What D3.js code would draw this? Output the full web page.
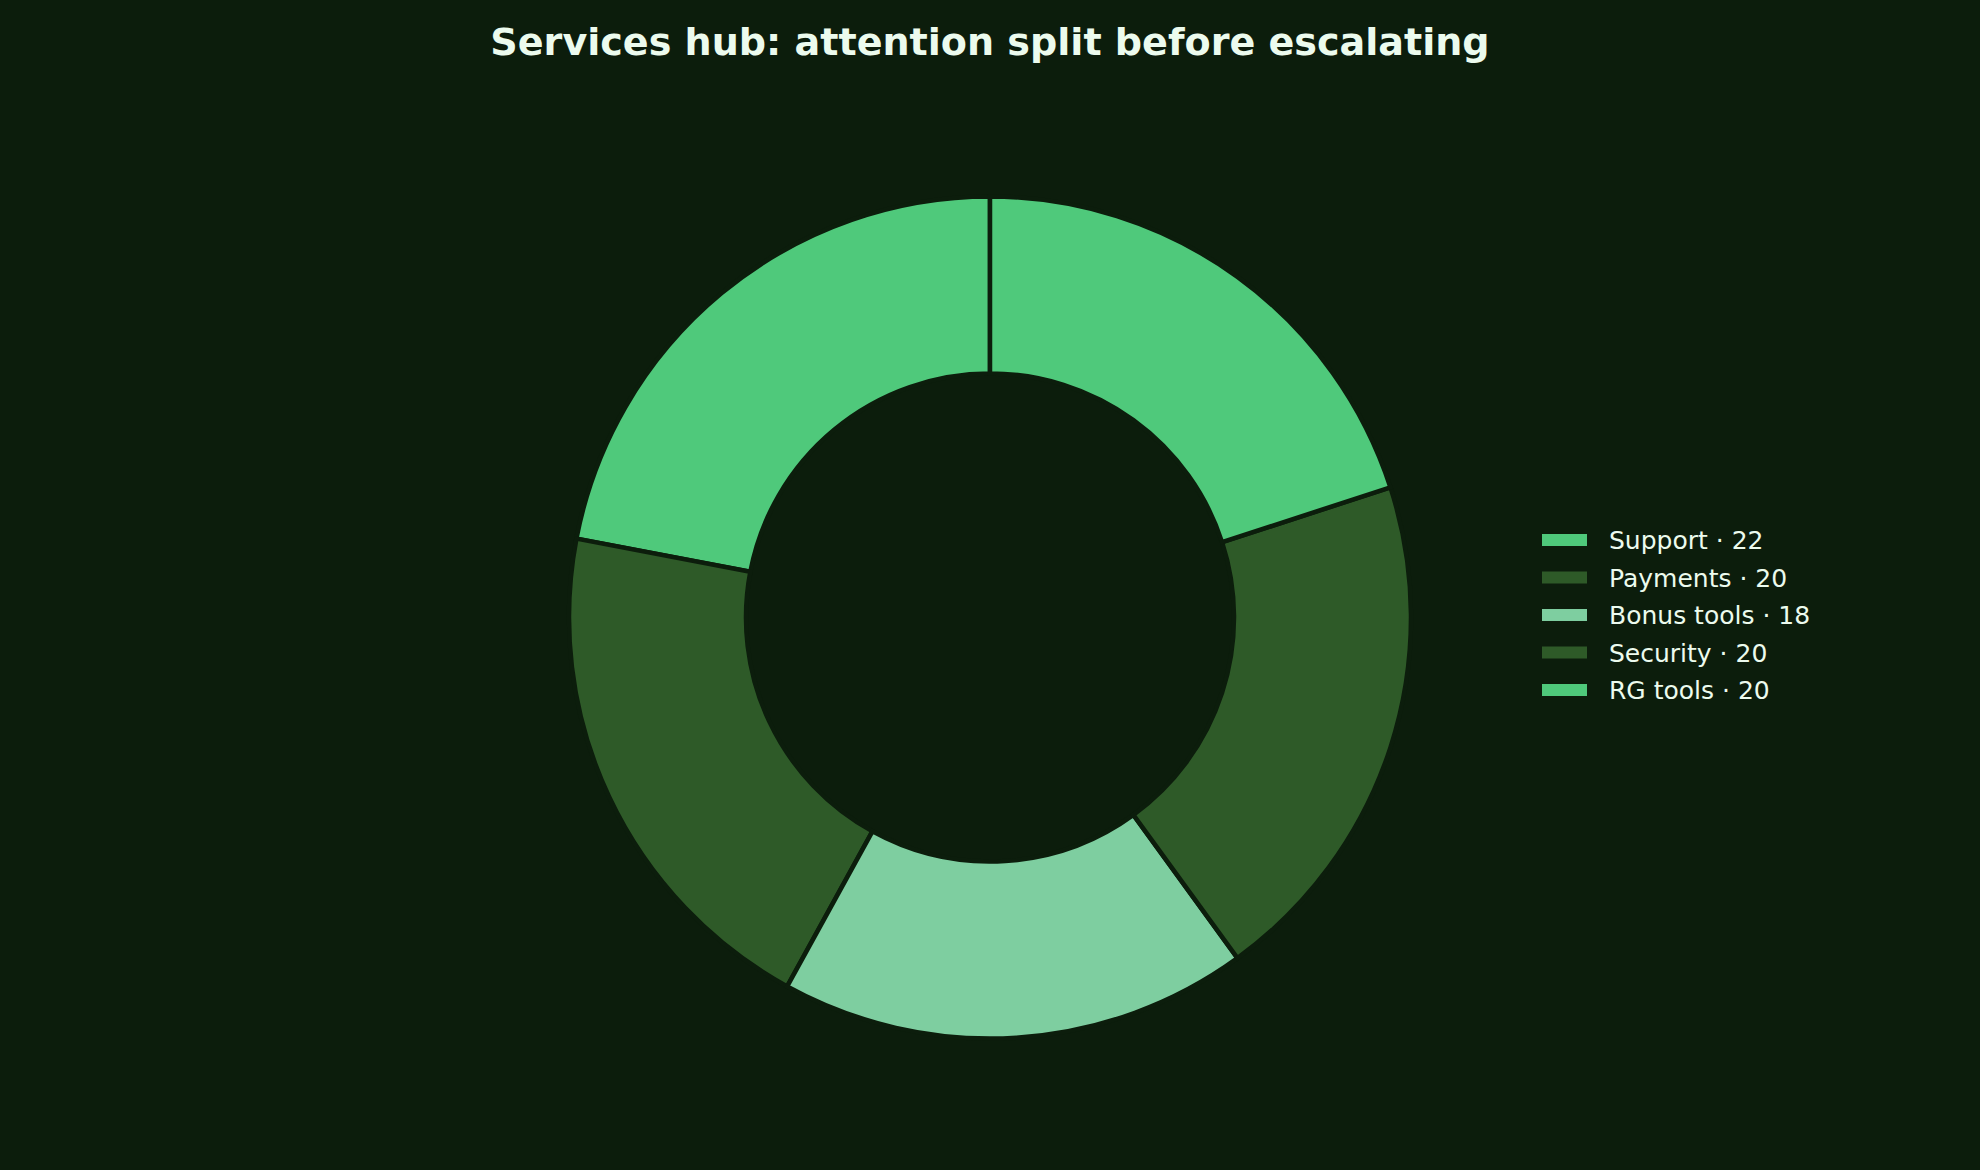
<!DOCTYPE html>
<html>
<head>
<meta charset="utf-8">
<script src="https://cdn.jsdelivr.net/npm/d3@7/dist/d3.min.js"></script>
<style>
  html, body { margin: 0; padding: 0; background: #0c1d0c; }
  svg { display: block; }
</style>
</head>
<body>
<svg id="chart" width="1980" height="1170"></svg>
<script>
const categories = ["Support", "Payments", "Bonus tools", "Security", "RG tools"];
const values = [22, 20, 18, 20, 20];
const colors = ["#4fc97b", "#2e5a28", "#7ecea0", "#2e5a28", "#4fc97b"];
const titleText = "Services hub: attention split before escalating";

const W = 1980, H = 1170;
const bg = "#0c1d0c";
const textColor = "#ecfbee";
const cx = 990, cy = 617.5;
const outerR = 421, innerR = 244;

const svg = d3.select("#chart");
svg.append("rect").attr("width", W).attr("height", H).attr("fill", bg);

svg.append("text")
  .attr("x", 990).attr("y", 55)
  .attr("text-anchor", "middle")
  .attr("font-family", "DejaVu Sans")
  .attr("font-weight", "bold")
  .attr("font-size", 38.1)
  .attr("fill", textColor)
  .text(titleText);

const data = categories.map((c, i) => ({ name: c, value: values[i], color: colors[i] }));
const pie = d3.pie().sort(null).value(d => d.value).startAngle(0).endAngle(-2 * Math.PI);
const arc = d3.arc().innerRadius(innerR).outerRadius(outerR);

const g = svg.append("g").attr("transform", `translate(${cx},${cy})`);
g.selectAll("path")
  .data(pie(data))
  .join("path")
  .attr("d", arc)
  .attr("fill", d => d.data.color)
  .attr("stroke", bg)
  .attr("stroke-width", 4.5)
  .attr("stroke-linejoin", "miter");

// legend
const rowY = d3.scalePoint().domain(categories).range([540, 690]);
const leg = svg.append("g");
const rows = leg.selectAll("g").data(data).join("g")
  .attr("transform", d => `translate(0,${rowY(d.name)})`);
rows.append("rect")
  .attr("x", 1542).attr("y", -6).attr("width", 45).attr("height", 12)
  .attr("fill", d => d.color);
rows.append("text")
  .attr("x", 1609).attr("y", 9)
  .attr("font-family", "DejaVu Sans")
  .attr("font-size", 25)
  .attr("fill", textColor)
  .text(d => `${d.name} · ${d.value}`);
</script>
</body>
</html>
